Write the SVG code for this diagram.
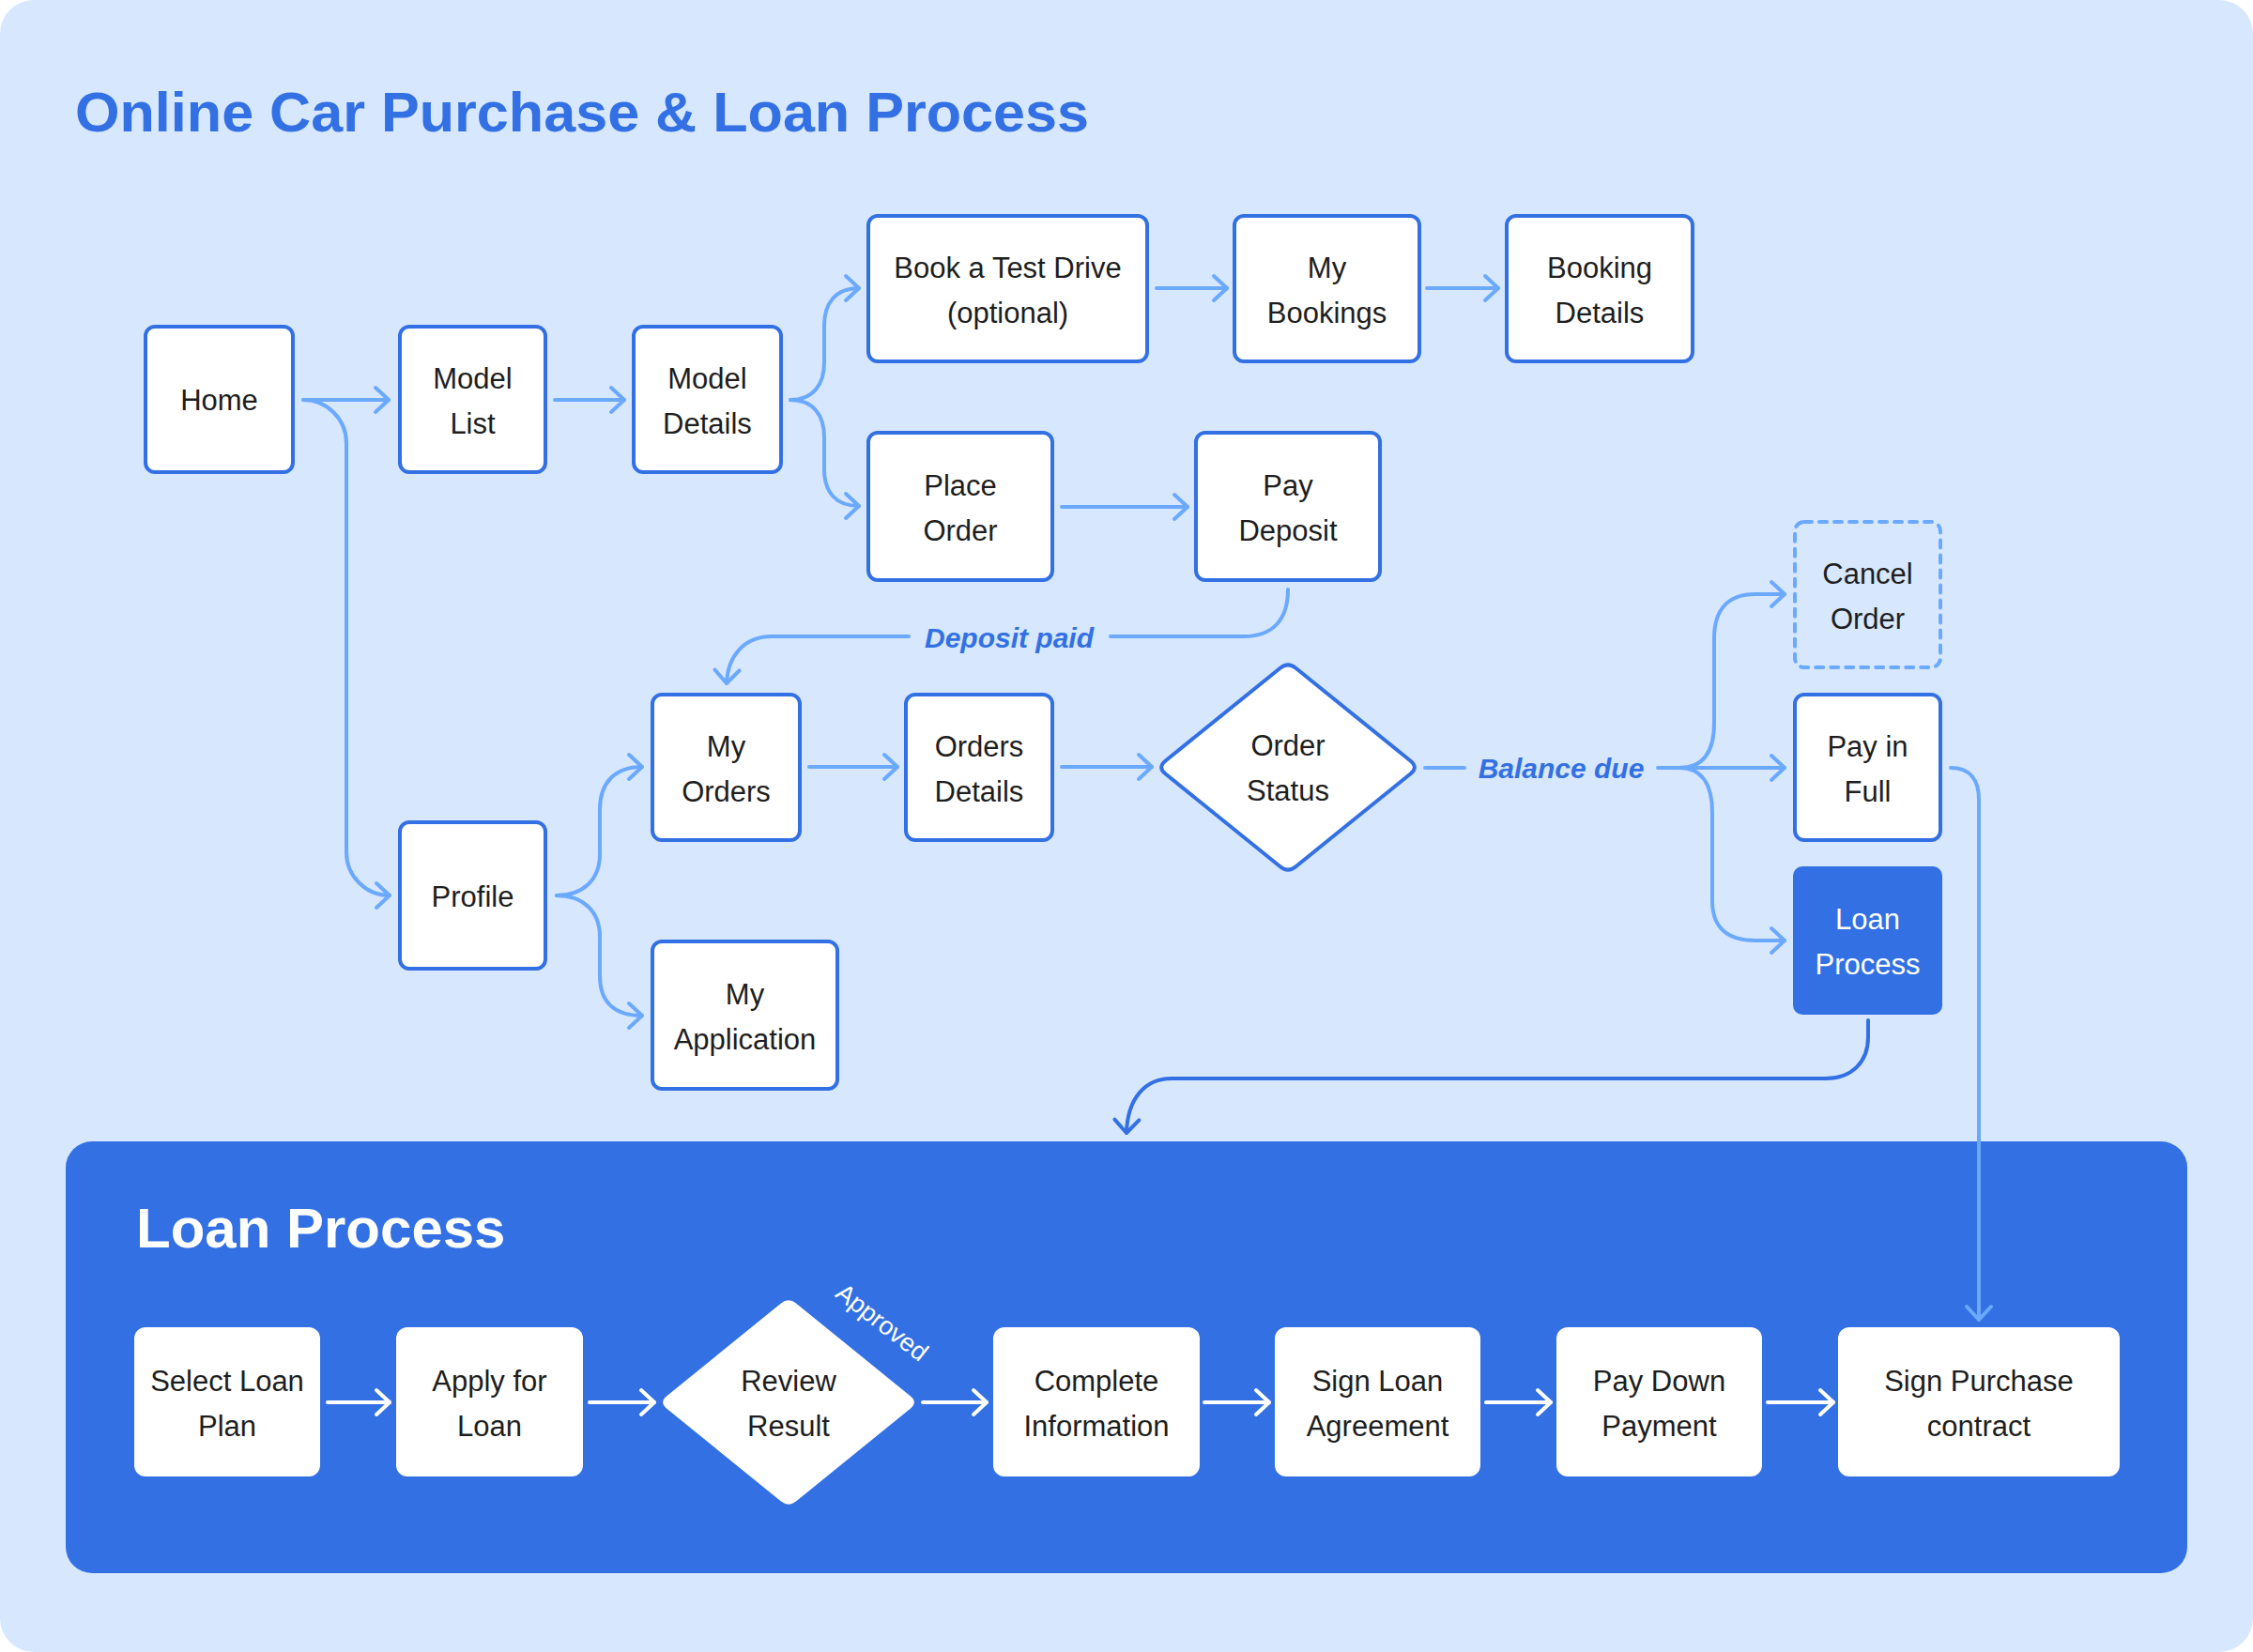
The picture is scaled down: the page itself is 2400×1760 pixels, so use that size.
<svg xmlns="http://www.w3.org/2000/svg" width="2400" height="1760" viewBox="0 0 2400 1760">
<style>
.bg{fill:#D6E7FE}
.node rect.n{fill:#FFFFFF;stroke:#3370E3;stroke-width:4}
.t{font-family:"Liberation Sans",Arial,sans-serif;font-size:31px;fill:#1E1E1E;text-anchor:middle}
.tw{fill:#FFFFFF}
.c{fill:none;stroke:#6BA9FF;stroke-width:4;stroke-linecap:round;stroke-linejoin:round}
.cd{fill:none;stroke:#3370E3;stroke-width:4;stroke-linecap:round}
.cw{fill:none;stroke:#FFFFFF;stroke-width:4;stroke-linecap:round}
.lbl{font-family:"Liberation Sans",Arial,sans-serif;font-size:30px;font-weight:bold;font-style:italic;fill:#3370E3;text-anchor:middle}
.inner rect{fill:#FFFFFF}
</style>
<defs>
<marker id="aL" viewBox="-18 -17 22 34" refX="0" refY="0" markerWidth="22" markerHeight="34" markerUnits="userSpaceOnUse" orient="auto"><path d="M-14,-13 L0,0 L-14,13" fill="none" stroke="#6BA9FF" stroke-width="4" stroke-linecap="round" stroke-linejoin="round"/></marker>
<marker id="aD" viewBox="-18 -17 22 34" refX="0" refY="0" markerWidth="22" markerHeight="34" markerUnits="userSpaceOnUse" orient="auto"><path d="M-14,-13 L0,0 L-14,13" fill="none" stroke="#3370E3" stroke-width="4" stroke-linecap="round" stroke-linejoin="round"/></marker>
<marker id="aW" viewBox="-18 -17 22 34" refX="0" refY="0" markerWidth="22" markerHeight="34" markerUnits="userSpaceOnUse" orient="auto"><path d="M-14,-13 L0,0 L-14,13" fill="none" stroke="#FFFFFF" stroke-width="4" stroke-linecap="round" stroke-linejoin="round"/></marker>
</defs>
<rect width="2400" height="1760" fill="#FFFFFF"/>
<rect class="bg" x="0" y="0" width="2400" height="1760" rx="36"/>
<text x="80" y="140" font-family="Liberation Sans,Arial,sans-serif" font-size="60" font-weight="bold" fill="#3370E3" textLength="1080" lengthAdjust="spacingAndGlyphs">Online Car Purchase &amp; Loan Process</text>

<g id="loan-panel">
<rect x="70" y="1216" width="2260" height="460" rx="28" fill="#3370E3"/>
<text x="145" y="1329" font-family="Liberation Sans,Arial,sans-serif" font-size="60" font-weight="bold" fill="#FFFFFF">Loan Process</text>
</g>

<g id="connectors">
<path class="c" d="M323,426 H414" marker-end="url(#aL)"/>
<path class="c" d="M323,426 A46,46 0 0 1 369,472 V908 A46,46 0 0 0 415,954" marker-end="url(#aL)"/>
<path class="c" d="M591,426 H665" marker-end="url(#aL)"/>
<path class="c" d="M842,426 C866,426 878,410 878,386 V347 C878,323 890,307 915,307" marker-end="url(#aL)"/>
<path class="c" d="M842,426 C866,426 878,442 878,466 V500 C878,524 890,539 915,539" marker-end="url(#aL)"/>
<path class="c" d="M593,954 C620,954 639,938 639,910 V862 C639,834 655,817 684,817" marker-end="url(#aL)"/>
<path class="c" d="M593,954 C620,954 639,970 639,998 V1040 C639,1068 655,1082 684,1082" marker-end="url(#aL)"/>
<path class="c" d="M1232,307 H1307" marker-end="url(#aL)"/>
<path class="c" d="M1520,307 H1596" marker-end="url(#aL)"/>
<path class="c" d="M1131,540 H1265" marker-end="url(#aL)"/>
<path class="c" d="M1372,628 C1372,660 1356,678 1325,678 H1183"/>
<path class="c" d="M968,678 H822 C792,678 775,700 774,728" marker-end="url(#aL)"/>
<path class="c" d="M862,817 H956" marker-end="url(#aL)"/>
<path class="c" d="M1131,817 H1227" marker-end="url(#aL)"/>
<path class="c" d="M1518,818 H1560"/>
<path class="c" d="M1766,818 H1901" marker-end="url(#aL)"/>
<path class="c" d="M1789,818 C1815,818 1826,800 1826,770 V680 C1826,650 1840,633 1870,633 H1901" marker-end="url(#aL)"/>
<path class="c" d="M1789,818 C1813,818 1824,836 1824,866 V960 C1824,988 1840,1002 1870,1002 H1901" marker-end="url(#aL)"/>
<path class="c" d="M2078,818 C2098,818 2108,830 2108,852 V1406" stroke-width="3" marker-end="url(#aL)"/>
<path class="cd" d="M1990,1087 V1105 C1990,1132 1972,1149 1945,1149 H1248 C1220,1149 1201,1170 1200,1207" marker-end="url(#aD)"/>
<path class="cw" d="M349,1494 H415" marker-end="url(#aW)"/>
<path class="cw" d="M628,1494 H697" marker-end="url(#aW)"/>
<path class="cw" d="M983,1494 H1051" marker-end="url(#aW)"/>
<path class="cw" d="M1283,1494 H1352" marker-end="url(#aW)"/>
<path class="cw" d="M1583,1494 H1652" marker-end="url(#aW)"/>
<path class="cw" d="M1883,1494 H1953" marker-end="url(#aW)"/>
<text class="lbl" x="1075" y="690">Deposit paid</text>
<text class="lbl" x="1663" y="829">Balance due</text>
<text x="934" y="1416" transform="rotate(38 934 1416)" font-family="Liberation Sans,Arial,sans-serif" font-size="27" fill="#FFFFFF" text-anchor="middle">Approved</text>
</g>

<g id="home" class="node"><rect class="n" x="155" y="348" width="157" height="155" rx="10"/><text class="t" x="233.5" y="437">Home</text></g>
<g id="model-list" class="node"><rect class="n" x="426" y="348" width="155" height="155" rx="10"/><text class="t" x="503.5" y="414">Model</text><text class="t" x="503.5" y="462">List</text></g>
<g id="model-details" class="node"><rect class="n" x="675" y="348" width="157" height="155" rx="10"/><text class="t" x="753.5" y="414">Model</text><text class="t" x="753.5" y="462">Details</text></g>
<g id="book-test-drive" class="node"><rect class="n" x="925" y="230" width="297" height="155" rx="10"/><text class="t" x="1073.5" y="296">Book a Test Drive</text><text class="t" x="1073.5" y="344">(optional)</text></g>
<g id="my-bookings" class="node"><rect class="n" x="1315" y="230" width="197" height="155" rx="10"/><text class="t" x="1413.5" y="296">My</text><text class="t" x="1413.5" y="344">Bookings</text></g>
<g id="booking-details" class="node"><rect class="n" x="1605" y="230" width="198" height="155" rx="10"/><text class="t" x="1704" y="296">Booking</text><text class="t" x="1704" y="344">Details</text></g>
<g id="place-order" class="node"><rect class="n" x="925" y="461" width="196" height="157" rx="10"/><text class="t" x="1023" y="528">Place</text><text class="t" x="1023" y="576">Order</text></g>
<g id="pay-deposit" class="node"><rect class="n" x="1274" y="461" width="196" height="157" rx="10"/><text class="t" x="1372" y="528">Pay</text><text class="t" x="1372" y="576">Deposit</text></g>
<g id="cancel-order" class="node"><rect x="1912" y="556" width="155" height="155" rx="10" fill="none" stroke="#6BA9FF" stroke-width="4" stroke-dasharray="8 8" stroke-linecap="round"/><text class="t" x="1989.5" y="622">Cancel</text><text class="t" x="1989.5" y="670">Order</text></g>
<g id="my-orders" class="node"><rect class="n" x="695" y="740" width="157" height="155" rx="10"/><text class="t" x="773.5" y="806">My</text><text class="t" x="773.5" y="854">Orders</text></g>
<g id="orders-details" class="node"><rect class="n" x="965" y="740" width="156" height="155" rx="10"/><text class="t" x="1043" y="806">Orders</text><text class="t" x="1043" y="854">Details</text></g>
<g id="order-status" class="node"><path d="M1363.7,711.75 Q1372,705 1380.3,711.75 L1502.7,810.75 Q1511,817.5 1502.7,824.25 L1380.3,923.25 Q1372,930 1363.7,923.25 L1241.3,824.25 Q1233,817.5 1241.3,810.75 Z" fill="#FFFFFF" stroke="#3370E3" stroke-width="4"/><text class="t" x="1372" y="805">Order</text><text class="t" x="1372" y="853">Status</text></g>
<g id="pay-in-full" class="node"><rect class="n" x="1912" y="740" width="155" height="155" rx="10"/><text class="t" x="1989.5" y="806">Pay in</text><text class="t" x="1989.5" y="854">Full</text></g>
<g id="loan-process-node" class="node"><rect x="1910" y="923" width="159" height="158" rx="10" fill="#3370E3"/><text class="t tw" x="1989.5" y="990">Loan</text><text class="t tw" x="1989.5" y="1038">Process</text></g>
<g id="profile" class="node"><rect class="n" x="426" y="876" width="155" height="156" rx="10"/><text class="t" x="503.5" y="966">Profile</text></g>
<g id="my-application" class="node"><rect class="n" x="695" y="1003" width="197" height="157" rx="10"/><text class="t" x="793.5" y="1070">My</text><text class="t" x="793.5" y="1118">Application</text></g>

<g id="select-loan-plan" class="inner"><rect x="143" y="1414" width="198" height="159" rx="12"/><text class="t" x="242" y="1482">Select Loan</text><text class="t" x="242" y="1530">Plan</text></g>
<g id="apply-for-loan" class="inner"><rect x="422" y="1414" width="199" height="159" rx="12"/><text class="t" x="521.5" y="1482">Apply for</text><text class="t" x="521.5" y="1530">Loan</text></g>
<g id="review-result"><path d="M831.7,1388.7 Q840,1382 848.3,1388.7 L969.7,1487.3 Q978,1494 969.7,1500.7 L848.3,1599.3 Q840,1606 831.7,1599.3 L710.3,1500.7 Q702,1494 710.3,1487.3 Z" fill="#FFFFFF"/><text class="t" x="840" y="1482">Review</text><text class="t" x="840" y="1530">Result</text></g>
<g id="complete-information" class="inner"><rect x="1058" y="1414" width="220" height="159" rx="12"/><text class="t" x="1168" y="1482">Complete</text><text class="t" x="1168" y="1530">Information</text></g>
<g id="sign-loan-agreement" class="inner"><rect x="1358" y="1414" width="219" height="159" rx="12"/><text class="t" x="1467.5" y="1482">Sign Loan</text><text class="t" x="1467.5" y="1530">Agreement</text></g>
<g id="pay-down-payment" class="inner"><rect x="1658" y="1414" width="219" height="159" rx="12"/><text class="t" x="1767.5" y="1482">Pay Down</text><text class="t" x="1767.5" y="1530">Payment</text></g>
<g id="sign-purchase-contract" class="inner"><rect x="1958" y="1414" width="300" height="159" rx="12"/><text class="t" x="2108" y="1482">Sign Purchase</text><text class="t" x="2108" y="1530">contract</text></g>
</svg>
